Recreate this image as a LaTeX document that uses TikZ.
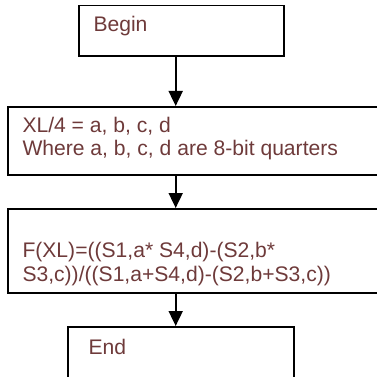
\documentclass[tikz,border=0pt]{standalone}
\usepackage{fontspec}
\setmainfont{Liberation Sans}
\usetikzlibrary{arrows.meta}
\definecolor{textred}{RGB}{110,58,58}
\tikzstyle{block} = [rectangle, draw=black, line width=1.8pt, inner sep=0pt, anchor=north west]
\tikzstyle{txt} = [inner sep=0pt, anchor=base west, align=left, text=textred, font=\fontsize{21.1}{23.5}\selectfont]
\tikzstyle{arrow} = [line width=1.8pt, -{Triangle[width=14pt,length=15pt]}]

\begin{document}
\begin{tikzpicture}[x=1pt, y=-1pt]
        \useasboundingbox (0,0) rectangle (377,377);
        % Boxes
        \node (begin) [block, minimum width=205.6pt, minimum height=50.3pt] at (77.7,4.7) {};
        \node (split) [block, minimum width=382.7pt, minimum height=68pt] at (7.3,106) {};
        \node (ratio) [block, minimum width=382.7pt, minimum height=83.7pt] at (7.3,208) {};
        \node (end) [block, minimum width=226pt, minimum height=52pt] at (67.3,326) {};
        \coordinate (spine) at (175.7,0);

        % Texts (base = last line)
        \node (begintxt) [txt] at (93.3,31.5) {Begin};
        \node (splittxt) [txt] at (22.3,155.5) {XL/4 = a, b, c, d\\Where a, b, c, d are 8-bit quarters};
        \node (ratiotxt) [txt] at (22.3,281.3) {F(XL)=((S1,a* S4,d)-(S2,b*\\S3,c))/((S1,a+S4,d)-(S2,b+S3,c))};
        \node (endtxt) [txt] at (88.3,354) {End};

        % Lines
        \draw [arrow] (begin.south -| spine) -- (split.north -| spine);
        \draw [arrow] (split.south -| spine) -- (ratio.north -| spine);
        \draw [arrow] (ratio.south -| spine) -- (end.north -| spine);
    \end{tikzpicture}
\end{document}
